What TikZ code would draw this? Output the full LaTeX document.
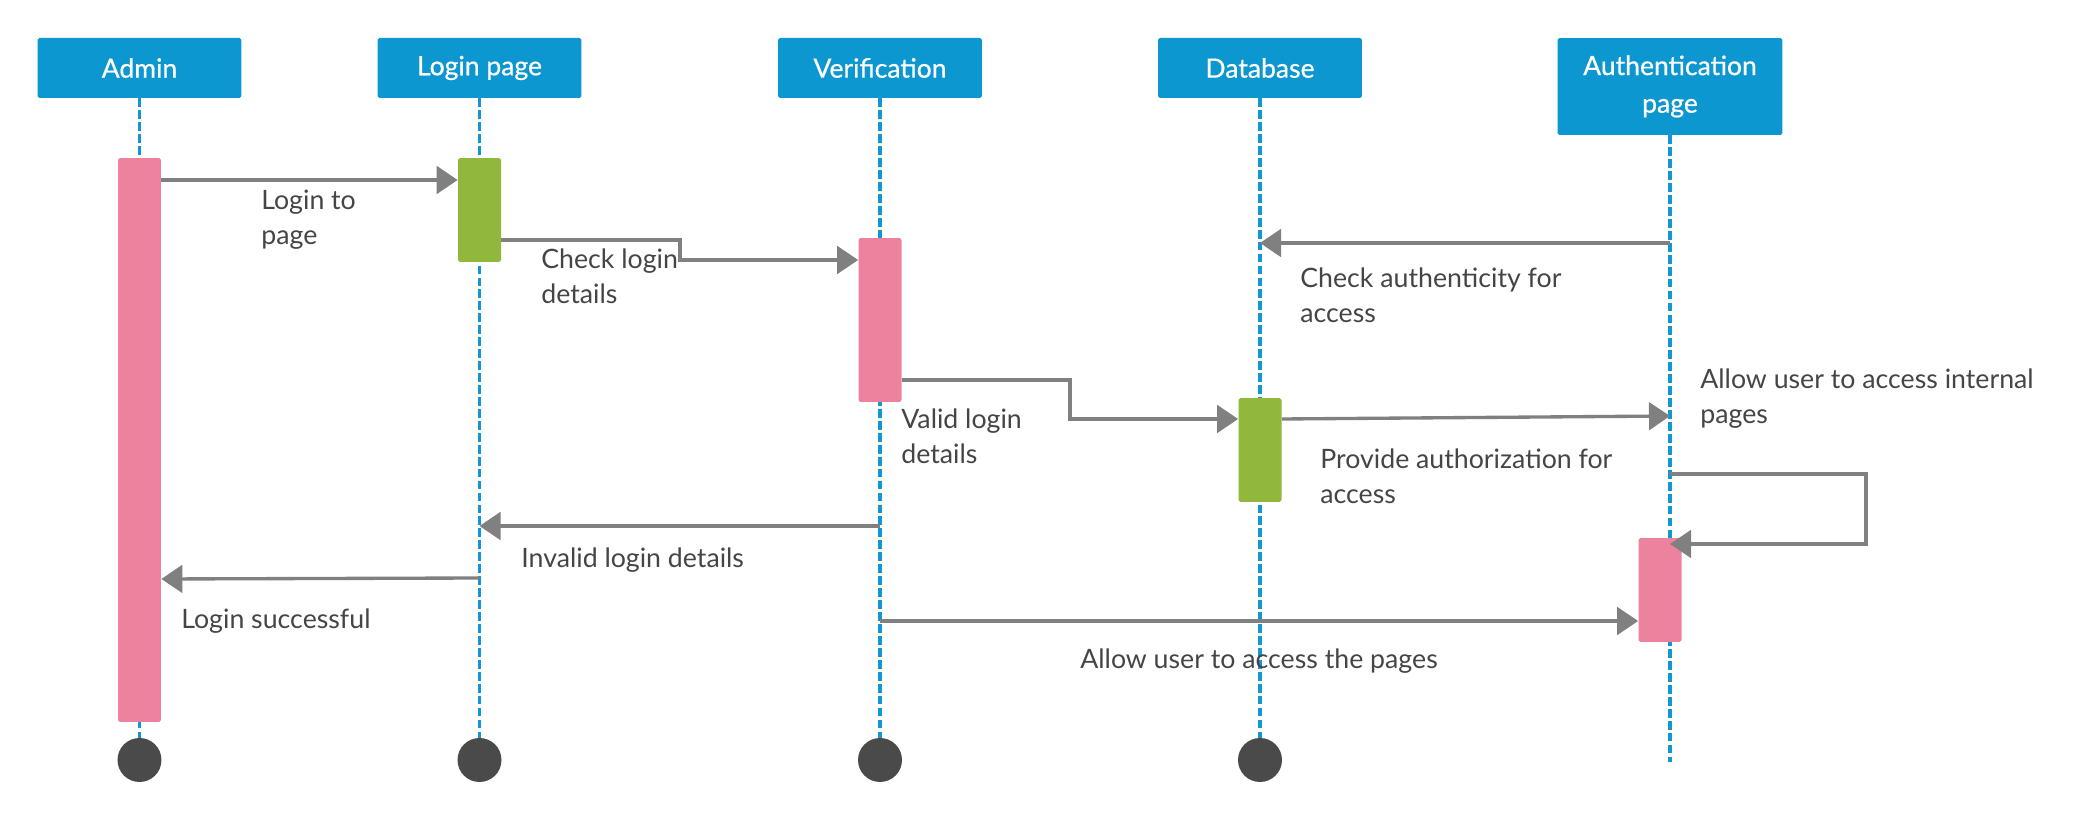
\documentclass[tikz,border=0pt]{standalone}
\usepackage{fontspec}
\setmainfont{Lato}
\newfontfamily\headfont{Lato}[FakeBold=0.6]
\usetikzlibrary{arrows.meta}
\definecolor{headblue}{HTML}{0C97D0}
\definecolor{lifeblue}{HTML}{1296D4}
\definecolor{barpink}{HTML}{EC829D}
\definecolor{bargreen}{HTML}{92B73D}
\definecolor{msggray}{HTML}{808080}
\definecolor{txtgray}{HTML}{454545}
\definecolor{endgray}{HTML}{4A4A4A}
\tikzset{
  head/.style={fill=headblue, text=white, align=center, minimum width=4.08cm, minimum height=1.2cm, rounded corners=1pt, font=\headfont\fontsize{15.1}{21.4}\selectfont},
  bar/.style={minimum width=0.86cm, inner sep=0pt, rounded corners=1pt},
  lifeline/.style={draw=lifeblue, line width=2pt, dash pattern=on 5pt off 1.8pt},
  endpt/.style={circle, fill=endgray, minimum size=0.88cm, inner sep=0pt},
  msg/.style={draw=msggray, line width=1.9pt, -{Triangle[length=0.42cm, width=0.55cm]}},
  lbl/.style={text=txtgray, anchor=base west, align=left, inner sep=0pt, font=\fontsize{15.2}{20.4}\selectfont}
}
\begin{document}
\begin{tikzpicture}[x=0.02cm, y=-0.02cm]
  \useasboundingbox (0,0) rectangle (2100,820);
  \node[head] (admin) at (139.5,68) {Admin};
  \node[head] (login) at (479.5,68) {Login page};
  \node[head] (verif) at (880,68) {Verification};
  \node[head] (db) at (1260,68) {Database};
  \node[head, minimum width=4.5cm, minimum height=1.94cm] (auth) at (1670,86.5) {Authentication\\page};
  \node[endpt] (adminend) at (139.5,760) {};
  \node[endpt] (loginend) at (479.5,760) {};
  \node[endpt] (verifend) at (880,760) {};
  \node[endpt] (dbend) at (1260,760) {};
  \coordinate (authend) at (1670,762);
  \draw[lifeline] (admin.south) -- (adminend.north);
  \draw[lifeline] (login.south) -- (loginend.north);
  \draw[lifeline] (verif.south) -- (verifend.north);
  \draw[lifeline] (db.south) -- (dbend.north);
  \draw[lifeline] (auth.south) -- (authend);
  \node[bar, fill=barpink, minimum height=11.28cm] (adminbar) at (139.5,440) {};
  \node[bar, fill=bargreen, minimum height=2.08cm] (loginbar) at (479.5,210) {};
  \node[bar, fill=barpink, minimum height=3.28cm] (verifbar) at (880,320) {};
  \node[bar, fill=bargreen, minimum height=2.08cm] (dbbar) at (1260,450) {};
  \node[bar, fill=barpink, minimum height=2.08cm] (authbar) at (1660,590) {};
  \draw[msg] (adminbar.east |- 0,180) -- (loginbar.west |- 0,180);
  \draw[msg] (loginbar.east |- 0,240) -- (680,240) -- (680,260) -- (verifbar.west |- 0,260);
  \draw[msg] (auth.south |- 0,243) -- (db.south |- 0,243);
  \draw[msg] (verifbar.east |- 0,380) -- (1070,380) -- (1070,419) -- (dbbar.west |- 0,419);
  \draw[msg] (dbbar.east |- 0,419) -- (auth.south |- 0,416);
  \draw[msg] (auth.south |- 0,474) -- (1866,474) -- (1866,544) -- (auth.south |- 0,544);
  \draw[msg] (verif.south |- 0,526) -- (login.south |- 0,526);
  \draw[msg] (login.south |- 0,578) -- (adminbar.east |- 0,579);
  \draw[msg] (verif.south |- 0,621) -- (authbar.west |- 0,621);
  \node[lbl] (l1) at (261,245) {Login to\\page};
  \node[lbl] (l2) at (541,304) {Check login\\details};
  \node[lbl] (l3) at (1300,323) {Check authenticity for\\access};
  \node[lbl] (l4) at (901,464) {Valid login\\details};
  \node[lbl] (l5) at (1320,504) {Provide authorization for\\access};
  \node[lbl] (l6) at (1700,424) {Allow user to access internal\\pages};
  \node[lbl] (l7) at (521,568) {Invalid login details};
  \node[lbl] (l8) at (181,628) {Login successful};
  \node[lbl] (l9) at (1080,668) {Allow user to access the pages};
\end{tikzpicture}
\end{document}
